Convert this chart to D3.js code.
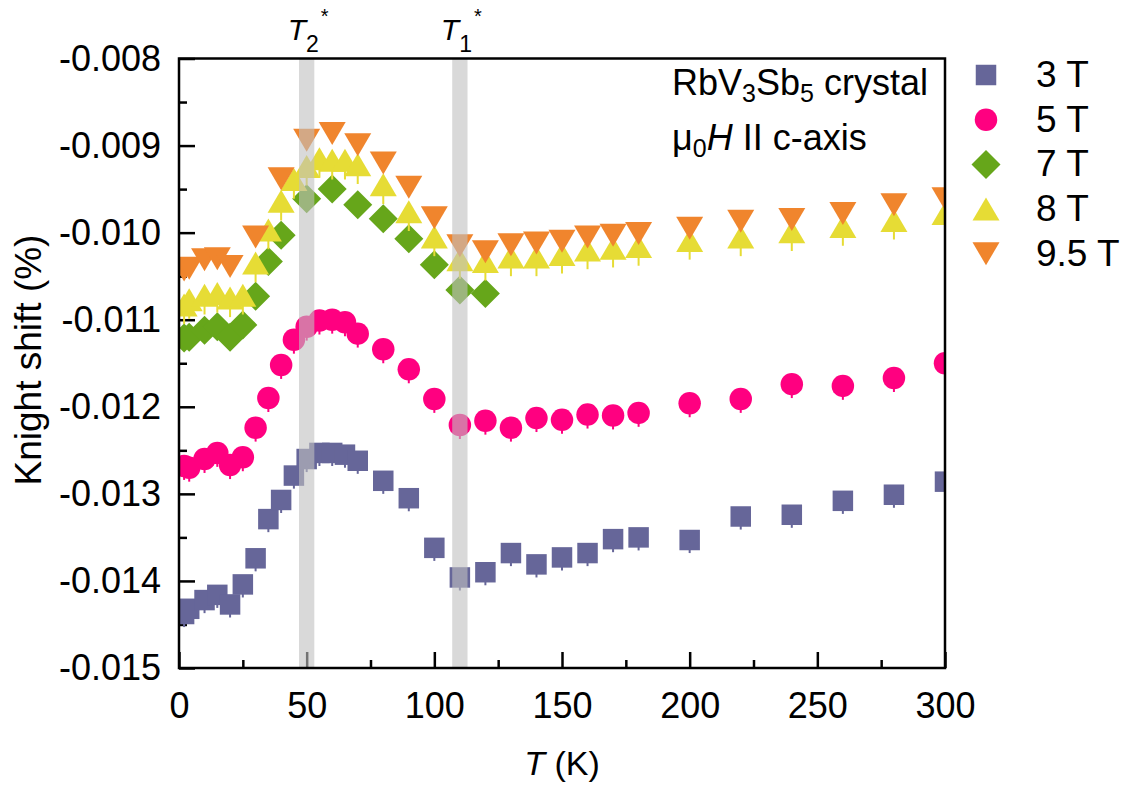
<!DOCTYPE html>
<html><head><meta charset="utf-8">
<script src="https://cdn.jsdelivr.net/npm/d3@7"></script>
<style>
body{margin:0;background:#fff}
svg{display:block}
text{font-family:"Liberation Sans",Arial,Helvetica,sans-serif;fill:#000}
</style>
</head><body>
<svg id="c" width="1129" height="789"></svg>
<script>
// ---------------- data ----------------
const tempsFull = [2,4,10,15,20,25,30,35,40,45,50,55,60,65,70,80,90,100,110,120,130,140,150,160,170,180,200,220,240,260,280,300];
const temps7T = [2,4,10,15,20,25,30,35,40,50,60,70,80,90,100,110,120];
const temps95T = [2,4,10,15,20,30,40,50,60,70,80,90,100,110,120,130,140,150,160,170,180,200,220,240,260,280,300];

const shift3T = [-0.01438,-0.01432,-0.01422,-0.01416,-0.01427,-0.01404,-0.01374,-0.01329,-0.01307,-0.01279,-0.01260,-0.01253,-0.01253,-0.01255,-0.01262,-0.01285,-0.01305,-0.01362,-0.01396,-0.01390,-0.01368,-0.01381,-0.01373,-0.01368,-0.01352,-0.01350,-0.01353,-0.01326,-0.01324,-0.01308,-0.01301,-0.01286];
const shift5T = [-0.01268,-0.01270,-0.01260,-0.01253,-0.01267,-0.01258,-0.01224,-0.01190,-0.01152,-0.01123,-0.01108,-0.01101,-0.01100,-0.01103,-0.01116,-0.01134,-0.01157,-0.01191,-0.01221,-0.01216,-0.01224,-0.01213,-0.01215,-0.01209,-0.01210,-0.01207,-0.01196,-0.01191,-0.01174,-0.01176,-0.01167,-0.01150];
const shift7T = [-0.01121,-0.01120,-0.01112,-0.01108,-0.01120,-0.01106,-0.01073,-0.01033,-0.01003,-0.00961,-0.00950,-0.00968,-0.00984,-0.01007,-0.01037,-0.01066,-0.01070];
const shift8T = [-0.01083,-0.01077,-0.01072,-0.01070,-0.01075,-0.01072,-0.01035,-0.00997,-0.00964,-0.00939,-0.00924,-0.00915,-0.00917,-0.00917,-0.00922,-0.00945,-0.00976,-0.01005,-0.01031,-0.01033,-0.01028,-0.01028,-0.01025,-0.01020,-0.01018,-0.01016,-0.01009,-0.01005,-0.00999,-0.00993,-0.00986,-0.00978];
const shift95T = [-0.01043,-0.01041,-0.01031,-0.01030,-0.01039,-0.01005,-0.00938,-0.00894,-0.00886,-0.00899,-0.00920,-0.00948,-0.00983,-0.01015,-0.01022,-0.01014,-0.01012,-0.01010,-0.01005,-0.01003,-0.01001,-0.00995,-0.00987,-0.00985,-0.00978,-0.00968,-0.00961];

const seriesNames = ["3 T","5 T","7 T","8 T","9.5 T"];
const seriesErr = [0.00015,0.00016,0.00010,0.00022,0.00010];

const bandCenters = [50,110];
const bandHalfWidth = 3;

const xTicksMajor = [0,50,100,150,200,250,300];
const xTicksMinor = [25,75,125,175,225,275];
const yTicksMajor = [-0.015,-0.014,-0.013,-0.012,-0.011,-0.010,-0.009,-0.008];
const yTicksMinor = [-0.0145,-0.0135,-0.0125,-0.0115,-0.0105,-0.0095,-0.0085];

// ---------------- styles ----------------
const colors = ["#666699","#ff0080","#66a61a","#e6dc35","#f0852d"];
const shapes = ["square","circle","diamond","up","down"];

const series = [
  {t: tempsFull, v: shift3T},
  {t: tempsFull, v: shift5T},
  {t: temps7T, v: shift7T},
  {t: tempsFull, v: shift8T},
  {t: temps95T, v: shift95T}
].map((s,i)=>({name:seriesNames[i], color:colors[i], shape:shapes[i], err:seriesErr[i],
  pts:s.t.map((t,j)=>({t, v:s.v[j]}))}));

function symbolPath(shape){
  switch(shape){
    case "square": {const s=10.25; return `M${-s},${-s}H${s}V${s}H${-s}Z`;}
    case "circle": {const r=11.25; return `M${r},0A${r},${r} 0 1,1 ${-r},0A${r},${r} 0 1,1 ${r},0Z`;}
    case "diamond": {const h=14.5; return `M0,${-h}L${h},0L0,${h}L${-h},0Z`;}
    case "up": return "M0,-11.5L13.5,11.5L-13.5,11.5Z";
    case "down": return "M0,11.5L13.5,-11.5L-13.5,-11.5Z";
  }
}

// ---------------- chart ----------------
const svg = d3.select("#c");
const L=179, R=945, T=58.5, B=668;
const x = d3.scaleLinear().domain([0,300]).range([L,R]);
const y = d3.scaleLinear().domain([-0.015,-0.008]).range([B,T]);
const FS = 36;

svg.append("defs").append("clipPath").attr("id","plotclip")
  .append("rect").attr("x",L).attr("y",T).attr("width",R-L).attr("height",B-T);

// axes (ticks inside)
const gx = svg.append("g").attr("transform",`translate(0,${B})`)
  .call(d3.axisBottom(x).tickValues(xTicksMajor).tickSize(-16).tickPadding(24).tickFormat(d3.format("d")));
const gxm = svg.append("g").attr("transform",`translate(0,${B})`)
  .call(d3.axisBottom(x).tickValues(xTicksMinor).tickSize(-8).tickFormat(""));
const gy = svg.append("g").attr("transform",`translate(${L},0)`)
  .call(d3.axisLeft(y).tickValues(yTicksMajor).tickSize(-16).tickPadding(18).tickFormat(d=>d.toFixed(3)));
const gym = svg.append("g").attr("transform",`translate(${L},0)`)
  .call(d3.axisLeft(y).tickValues(yTicksMinor).tickSize(-8).tickFormat(""));
[gx,gxm,gy,gym].forEach(g=>{
  g.select(".domain").remove();
  g.selectAll(".tick line").attr("stroke","#000").attr("stroke-width",2.5);
  g.selectAll(".tick text").attr("font-size",FS).attr("font-family",null).attr("fill","#000");
});

// data markers
const plot = svg.append("g").attr("clip-path","url(#plotclip)");
series.forEach(s=>{
  const g = plot.append("g");
  g.selectAll("line.err").data(s.pts).join("line").attr("class","err")
    .attr("x1",d=>x(d.t)).attr("x2",d=>x(d.t))
    .attr("y1",d=>y(d.v)).attr("y2",d=>y(d.v - s.err))
    .attr("stroke",s.color).attr("stroke-width",2);
  g.selectAll("path").data(s.pts).join("path")
    .attr("transform",d=>`translate(${x(d.t)},${y(d.v)})`)
    .attr("d",symbolPath(s.shape)).attr("fill",s.color);
});

// shaded bands (over markers)
svg.append("g").selectAll("rect").data(bandCenters).join("rect")
  .attr("x",d=>x(d-bandHalfWidth)).attr("width",d=>x(d+bandHalfWidth)-x(d-bandHalfWidth))
  .attr("y",T).attr("height",B-T).attr("fill","#c0c0c0").attr("fill-opacity",0.6);

// frame
svg.append("rect").attr("x",L).attr("y",T).attr("width",R-L).attr("height",B-T)
  .attr("fill","none").attr("stroke","#000").attr("stroke-width",2.5);

// band labels
const bandLabels = [{c:50, sub:"2"},{c:110, sub:"1"}];
bandLabels.forEach(b=>{
  const t = svg.append("text").attr("x",x(b.c)-19).attr("y",40).attr("font-size",30);
  t.append("tspan").attr("font-style","italic").text("T");
  t.append("tspan").attr("font-size",23).attr("dy",12).text(b.sub);
  t.append("tspan").attr("font-size",20).attr("dy",-29).attr("dx",2).text("*");
});

// annotation
const a1 = svg.append("text").attr("x",672).attr("y",95).attr("font-size",36);
a1.append("tspan").text("RbV");
a1.append("tspan").attr("font-size",25).attr("dy",7).text("3");
a1.append("tspan").attr("dy",-7).text("Sb");
a1.append("tspan").attr("font-size",25).attr("dy",7).text("5");
a1.append("tspan").attr("dy",-7).text(" crystal");
const a2 = svg.append("text").attr("x",672).attr("y",150).attr("font-size",36);
a2.append("tspan").text("\u03bc");
a2.append("tspan").attr("font-size",25).attr("dy",7).text("0");
a2.append("tspan").attr("dy",-7).attr("font-style","italic").text("H");
a2.append("tspan").text(" II c-axis");

// axis titles
const xt = svg.append("text").attr("x",562).attr("y",775).attr("text-anchor","middle").attr("font-size",34);
xt.append("tspan").attr("font-style","italic").text("T");
xt.append("tspan").text(" (K)");
svg.append("text").attr("transform","translate(41,360) rotate(-90)").attr("text-anchor","middle")
  .attr("font-size",37).text("Knight shift (%)");

// legend
const leg = svg.append("g");
series.forEach((s,i)=>{
  const yy = 75 + i*44.7;
  leg.append("path").attr("transform",`translate(986,${yy})`).attr("d",symbolPath(s.shape)).attr("fill",s.color);
  leg.append("text").attr("x",1036).attr("y",yy+12).attr("font-size",37).text(s.name);
});
</script>
</body></html>
